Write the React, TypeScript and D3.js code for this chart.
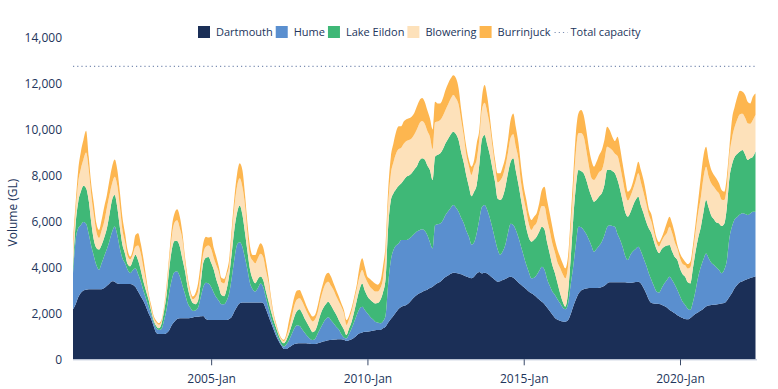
import { useEffect, useRef } from 'react';
import * as d3 from 'd3';

// monthly storage volumes (GL), first month Aug 2000, last Jun 2022
const START_MONTH = new Date(2000, 7, 1);

const seriesNames = ['Dartmouth', 'Hume', 'Lake Eildon', 'Blowering', 'Burrinjuck'];
const seriesColors = ['#1b2f57', '#5a8fcf', '#3fb877', '#fde1ba', '#fdb64f'];
const totalCapacity = 12750;
const yTickValues = [0, 2000, 4000, 6000, 8000, 10000, 12000, 14000];
const xTickLabels = ['2005-Jan', '2010-Jan', '2015-Jan', '2020-Jan'];

const dartmouth = [
  2180, 2400, 2700, 2900, 3000, 3030, 3050, 3050, 3050, 3050,
  3050, 3050, 3100, 3200, 3300, 3400, 3380, 3300, 3280, 3280,
  3280, 3280, 3280, 3250, 3150, 2950, 2750, 2550, 2300, 2000,
  1750, 1450, 1150, 1100, 1100, 1100, 1150, 1280, 1500, 1650,
  1750, 1790, 1790, 1790, 1790, 1800, 1820, 1850, 1850, 1870,
  1890, 1750, 1710, 1710, 1710, 1710, 1710, 1710, 1710, 1710,
  1750, 1860, 2100, 2300, 2440, 2470, 2470, 2470, 2470, 2470,
  2470, 2470, 2470, 2450, 2200, 1900, 1600, 1300, 1000, 800,
  600, 450, 450, 520, 600, 670, 690, 700, 700, 700,
  690, 680, 670, 670, 700, 730, 770, 800, 830, 840,
  850, 860, 870, 870, 850, 800, 830, 870, 950, 1050,
  1130, 1170, 1200, 1200, 1220, 1240, 1260, 1275, 1275, 1350,
  1420, 1600, 1750, 1900, 2050, 2200, 2290, 2330, 2365, 2450,
  2580, 2700, 2800, 2870, 2930, 2990, 3030, 3100, 3160, 3250,
  3320, 3380, 3480, 3580, 3650, 3720, 3770, 3760, 3740, 3700,
  3650, 3600, 3560, 3525, 3600, 3740, 3800, 3740, 3770, 3740,
  3650, 3550, 3450, 3380, 3400, 3450, 3500, 3560, 3595, 3550,
  3450, 3335, 3250, 3150, 3050, 2950, 2870, 2800, 2700, 2600,
  2500, 2400, 2250, 2100, 1950, 1800, 1720, 1680, 1650, 1640,
  1700, 1950, 2300, 2600, 2850, 3000, 3050, 3080, 3100, 3100,
  3100, 3100, 3120, 3150, 3200, 3300, 3350, 3350, 3350, 3350,
  3350, 3350, 3350, 3330, 3330, 3340, 3360, 3380, 3300, 3100,
  2870, 2600, 2450, 2430, 2420, 2410, 2380, 2320, 2250, 2150,
  2080, 2000, 1920, 1855, 1800, 1750, 1740, 1800, 1900, 1980,
  2050, 2120, 2200, 2300, 2340, 2360, 2370, 2390, 2410, 2430,
  2450, 2550, 2720, 2900, 3100, 3250, 3350, 3400, 3450, 3500,
  3540, 3570, 3600,
];

const hume = [
  1570, 2800, 3000, 2950, 2980, 2870, 2400, 1900, 1450, 1050,
  850, 1130, 1400, 1600, 1850, 2150, 2400, 2100, 1520, 1120,
  900, 620, 480, 630, 810, 750, 650, 450, 350, 300,
  200, 150, 200, 180, 220, 600, 1050, 1670, 2000, 2150,
  2070, 1810, 1410, 1060, 660, 450, 280, 270, 400, 830,
  1260, 1580, 1590, 1440, 1190, 990, 840, 690, 690, 840,
  1150, 1740, 2300, 2700, 2660, 2430, 1930, 1430, 830, 580,
  480, 630, 830, 700, 500, 350, 200, 150, 150, 100,
  50, 100, 200, 320, 500, 680, 790, 750, 600, 450,
  310, 220, 170, 230, 430, 620, 800, 950, 1000, 860,
  720, 560, 430, 230, 100, 110, 270, 480, 700, 900,
  1070, 1120, 950, 800, 630, 510, 380, 325, 290, 300,
  480, 1700, 2550, 2855, 2900, 2845, 2905, 2865, 2830, 2800,
  2760, 2750, 2760, 2750, 2730, 2610, 2380, 2000, 1670, 2590,
  2560, 2535, 2570, 2700, 2800, 2880, 2945, 2840, 2685, 2450,
  2265, 2000, 1775, 1475, 1500, 1760, 2300, 2905, 2945, 2760,
  2500, 2150, 1750, 1420, 1150, 1250, 1500, 1940, 2305, 2300,
  2180, 1965, 1650, 1350, 1050, 850, 655, 750, 970, 1250,
  1530, 1500, 1250, 1100, 1000, 1000, 880, 755, 600, 535,
  700, 1250, 1730, 2400, 2920, 2750, 2580, 2370, 2100, 1850,
  1580, 1700, 1830, 1970, 2200, 2450, 2490, 2450, 2420, 2100,
  1845, 1550, 1150, 990, 1220, 1360, 1440, 1520, 1400, 1300,
  1230, 1150, 1000, 770, 530, 490, 720, 980, 1200, 1445,
  1370, 1250, 1095, 895, 700, 615, 460, 345, 600, 1020,
  1550, 1910, 2150, 2310, 2060, 1840, 1730, 1610, 1475, 1320,
  1450, 1750, 2580, 2900, 3000, 2950, 2950, 2955, 2870, 2780,
  2810, 2855, 2825,
];

const lakeEildon = [
  300, 700, 1150, 1450, 1570, 1550, 1450, 1050, 700, 750,
  880, 800, 800, 900, 1150, 1400, 1370, 1200, 900, 600,
  420, 250, 290, 420, 590, 600, 500, 400, 350, 300,
  150, 100, 100, 70, 230, 400, 650, 1050, 1300, 1350,
  1330, 1300, 1150, 1000, 700, 450, 350, 280, 300, 600,
  1050, 1090, 1150, 1050, 1000, 800, 600, 400, 350, 500,
  800, 1100, 1300, 1400, 1600, 1400, 1100, 800, 600, 450,
  360, 400, 300, 300, 300, 300, 300, 250, 200, 150,
  150, 150, 200, 290, 400, 510, 620, 725, 700, 600,
  550, 450, 340, 350, 440, 600, 650, 650, 680, 650,
  580, 530, 400, 400, 350, 150, 250, 300, 450, 650,
  850, 1010, 850, 750, 750, 750, 790, 850, 1015, 1250,
  1600, 2500, 2600, 2470, 2450, 2505, 2465, 2605, 2755, 2750,
  2755, 2800, 2840, 3030, 3090, 3100, 3040, 3140, 2975, 2980,
  3020, 3050, 3100, 3120, 3150, 3200, 3195, 3200, 3120, 2850,
  2615, 2400, 2180, 2100, 2200, 2100, 2400, 2955, 3050, 2850,
  2750, 2600, 2500, 2200, 2385, 2380, 2500, 2595, 2700, 2900,
  2570, 2300, 2035, 1800, 1600, 1500, 1595, 1650, 1670, 1700,
  1740, 1750, 1600, 1400, 1150, 945, 700, 435, 250, 115,
  470, 1100, 2035, 2500, 2470, 2450, 2465, 2350, 2200, 2150,
  2180, 2150, 2150, 2105, 2200, 2490, 2410, 2400, 2330, 2350,
  2175, 2000, 1900, 1890, 1850, 2000, 2150, 2180, 2000, 1955,
  1900, 1950, 2035, 1950, 1850, 1715, 1700, 1605, 1500, 1380,
  1250, 1200, 1305, 1200, 1200, 1230, 1150, 1160, 1500, 1700,
  1700, 1740, 2050, 2325, 2200, 2050, 2000, 1950, 2030, 2050,
  2000, 2300, 2600, 2700, 2720, 2750, 2750, 2755, 2580, 2395,
  2400, 2395, 2625,
];

const blowering = [
  850, 550, 850, 1000, 1150, 1550, 1350, 1200, 1100, 700,
  500, 620, 700, 900, 850, 700, 800, 950, 900, 650,
  500, 350, 300, 250, 350, 650, 720, 600, 400, 150,
  100, 100, 150, 150, 100, 100, 250, 350, 600, 800,
  900, 800, 850, 400, 300, 200, 170, 300, 400, 450,
  400, 480, 500, 600, 500, 600, 650, 550, 550, 600,
  400, 800, 1000, 1150, 1180, 1200, 1200, 800, 600, 800,
  870, 900, 1000, 1000, 900, 800, 450, 200, 100, 50,
  70, 90, 150, 220, 350, 490, 500, 480, 500, 500,
  450, 450, 470, 500, 500, 650, 800, 900, 870, 850,
  870, 800, 810, 800, 700, 430, 400, 450, 500, 500,
  550, 585, 600, 600, 550, 550, 520, 500, 520, 600,
  1100, 1000, 1150, 1350, 1550, 1600, 1550, 1580, 1550, 1550,
  1520, 1520, 1600, 1620, 1620, 1550, 1500, 1450, 1350, 1500,
  1450, 1450, 1450, 1450, 1500, 1550, 1600, 1550, 1550, 1400,
  1160, 900, 880, 925, 1100, 1100, 1100, 1300, 1400, 1400,
  1250, 950, 700, 700, 850, 900, 900, 900, 1050, 1050,
  1050, 1100, 750, 700, 750, 600, 510, 600, 600, 800,
  900, 1000, 1000, 1000, 950, 900, 900, 1100, 1200, 1235,
  1160, 1300, 1250, 1500, 1600, 1650, 1600, 1300, 1000, 800,
  945, 1000, 1050, 1015, 1050, 1015, 950, 900, 850, 1050,
  1015, 950, 850, 700, 700, 700, 800, 1015, 1000, 900,
  800, 600, 500, 400, 300, 300, 350, 450, 550, 800,
  800, 650, 500, 450, 450, 500, 600, 700, 700, 850,
  1100, 1300, 1500, 1450, 1350, 1400, 1400, 1400, 1300, 1150,
  1035, 900, 1000, 1150, 1300, 1500, 1620, 1580, 1600, 1600,
  1500, 1600, 1600,
];

const burrinjuck = [
  350, 350, 540, 740, 850, 950, 570, 460, 490, 370,
  350, 465, 645, 550, 650, 740, 750, 690, 625, 550,
  385, 260, 120, 210, 510, 535, 430, 400, 250, 120,
  150, 100, 80, 70, 70, 100, 210, 260, 375, 405,
  480, 510, 285, 220, 150, 120, 110, 170, 360, 430,
  450, 440, 350, 540, 430, 370, 230, 200, 200, 150,
  300, 300, 400, 550, 650, 740, 450, 420, 400, 240,
  360, 430, 450, 430, 420, 250, 180, 100, 100, 80,
  60, 60, 130, 360, 370, 380, 390, 365, 300, 260,
  220, 200, 210, 200, 290, 270, 290, 370, 390, 400,
  290, 270, 220, 150, 150, 220, 150, 150, 150, 205,
  430, 510, 430, 245, 350, 350, 350, 300, 300, 530,
  400, 600, 750, 825, 950, 1000, 940, 970, 950, 940,
  945, 940, 1000, 1000, 1000, 965, 900, 800, 850, 895,
  790, 725, 760, 870, 910, 880, 860, 880, 700, 450,
  290, 355, 280, 360, 275, 700, 400, 530, 775, 680,
  410, 295, 275, 395, 310, 405, 420, 550, 765, 900,
  850, 700, 700, 515, 485, 455, 435, 410, 415, 440,
  700, 865, 835, 755, 725, 545, 560, 495, 475, 435,
  435, 465, 635, 835, 865, 1000, 935, 880, 800, 775,
  580, 650, 745, 870, 895, 870, 780, 590, 550, 840,
  795, 680, 600, 385, 300, 330, 420, 505, 540, 545,
  425, 275, 315, 250, 200, 185, 150, 245, 450, 435,
  420, 385, 155, 215, 245, 155, 195, 245, 275, 370,
  535, 880, 950, 870, 725, 590, 525, 525, 445, 420,
  360, 450, 355, 840, 875, 980, 1020, 960, 1000, 940,
  890, 1010, 925,
];

const seriesValues = [dartmouth, hume, lakeEildon, blowering, burrinjuck];

const FONT = "'Open Sans', 'Noto Sans', sans-serif";
const TEXT_COLOR = '#22355b';

type Row = { date: Date; [key: string]: number | Date };

export default function App() {
  const svgRef = useRef<SVGSVGElement>(null);

  useEffect(() => {
    if (!svgRef.current) return;
    const svg = d3.select(svgRef.current);
    svg.selectAll('*').remove();

    const plot = { left: 73, right: 756, top: 37.7, bottom: 359.3 };

    const months = dartmouth.map((_, i) => d3.timeMonth.offset(START_MONTH, i));
    const table: Row[] = months.map((date, i) => {
      const row: Row = { date };
      seriesNames.forEach((name, k) => { row[name] = seriesValues[k][i]; });
      return row;
    });

    const x = d3.scaleTime()
      .domain([months[0], months[months.length - 1]])
      .range([plot.left, 755.5]);
    const y = d3.scaleLinear()
      .domain([0, 14000])
      .range([plot.bottom, plot.top]);

    const stacked = d3.stack<Row>()
      .keys(seriesNames)
      .value((d, key) => d[key] as number)(table);

    const area = d3.area<d3.SeriesPoint<Row>>()
      .x(d => x(d.data.date))
      .y0(d => y(d[0]))
      .y1(d => y(d[1]))
      .curve(d3.curveMonotoneX);

    // Stacked areas
    svg.append('g')
      .selectAll('path')
      .data(stacked)
      .enter()
      .append('path')
      .attr('d', d => area(d) as string)
      .attr('fill', (_, i) => seriesColors[i]);

    // Total capacity
    svg.append('line')
      .attr('x1', plot.left)
      .attr('x2', plot.right)
      .attr('y1', y(totalCapacity))
      .attr('y2', y(totalCapacity))
      .attr('stroke', '#7d8fb3')
      .attr('stroke-width', 1.2)
      .attr('stroke-dasharray', '1.2 3');

    // X axis
    const parseTick = d3.timeParse('%Y-%b');
    svg.append('g')
      .attr('transform', `translate(0,${plot.bottom})`)
      .call(
        d3.axisBottom(x)
          .tickValues(xTickLabels.map(s => parseTick(s) as Date))
          .tickFormat(d => d3.timeFormat('%Y-%b')(d as Date))
          .tickSize(6)
          .tickSizeOuter(0)
          .tickPadding(9)
      )
      .call(g => g.select('.domain')
        .attr('stroke', '#b5c0d3')
        .attr('d', `M${plot.left},0.5H${plot.right + 1}`))
      .call(g => g.selectAll('.tick line').attr('stroke', '#3a4a68'))
      .call(g => g.selectAll('.tick text')
        .attr('fill', TEXT_COLOR)
        .attr('font-family', FONT)
        .attr('font-size', '12px'));

    // Y axis labels
    svg.append('g')
      .attr('transform', `translate(${plot.left - 11},0)`)
      .call(
        d3.axisLeft(y)
          .tickValues(yTickValues)
          .tickFormat(d3.format(','))
          .tickSize(0)
          .tickPadding(0)
      )
      .call(g => g.select('.domain').remove())
      .call(g => g.selectAll('.tick text')
        .attr('fill', TEXT_COLOR)
        .attr('font-family', FONT)
        .attr('font-size', '12px'));

    // Y axis title
    svg.append('text')
      .attr('transform', `translate(17,${(plot.top + plot.bottom) / 2 + 14}) rotate(-90)`)
      .attr('text-anchor', 'middle')
      .attr('fill', TEXT_COLOR)
      .attr('font-family', FONT)
      .attr('font-size', '12px')
      .text('Volume (GL)');

    // Legend
    const legend = svg.append('g').attr('transform', 'translate(198,32)');
    let cursor = 0;
    seriesNames.forEach((name, i) => {
      legend.append('rect')
        .attr('x', cursor)
        .attr('y', -6)
        .attr('width', 12)
        .attr('height', 12)
        .attr('fill', seriesColors[i]);
      const label = legend.append('text')
        .attr('x', cursor + 18)
        .attr('dy', '0.35em')
        .attr('fill', TEXT_COLOR)
        .attr('font-family', FONT)
        .attr('font-size', '11px')
        .text(name);
      cursor += 18 + (label.node() as SVGTextElement).getComputedTextLength() + 3;
    });
    legend.append('line')
      .attr('x1', cursor + 1)
      .attr('x2', cursor + 14)
      .attr('y1', 0.5)
      .attr('y2', 0.5)
      .attr('stroke', '#7d8fb3')
      .attr('stroke-width', 1.2)
      .attr('stroke-dasharray', '1.2 3');
    legend.append('text')
      .attr('x', cursor + 17)
      .attr('dy', '0.35em')
      .attr('fill', TEXT_COLOR)
      .attr('font-family', FONT)
      .attr('font-size', '11px')
      .text('Total capacity');
  }, []);

  return (
    <svg
      ref={svgRef}
      width={778}
      height={389}
      style={{ position: 'absolute', left: 0, top: 0, display: 'block', background: '#fff' }}
    />
  );
}
